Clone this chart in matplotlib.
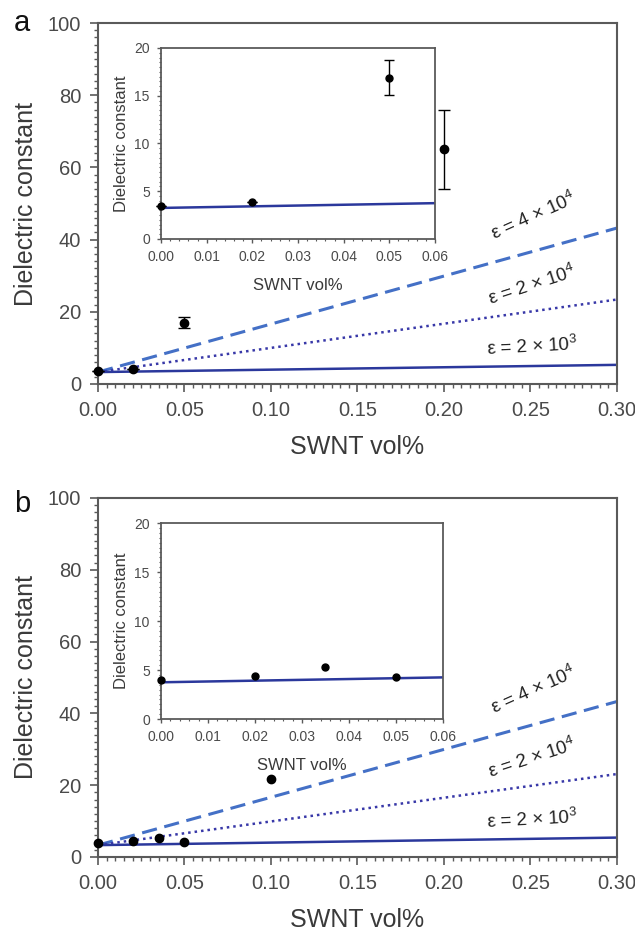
import matplotlib
matplotlib.use("Agg")
import matplotlib.pyplot as plt
from matplotlib.ticker import MultipleLocator, FormatStrFormatter

plt.rcParams['font.family'] = ['Liberation Sans', 'DejaVu Sans']

# ---- data -------------------------------------------------------------
# model curves (effective dielectric constant vs SWNT loading)
model_x = [0.0, 0.30]
model_a_4e4 = [3.3, 43.2]
model_a_2e4 = [3.3, 23.4]
model_a_2e3 = [3.3, 5.3]
model_b_4e4 = [3.3, 43.3]
model_b_2e4 = [3.3, 23.1]
model_b_2e3 = [3.3, 5.4]

# measured values, sample a
a_x = [0.0, 0.02, 0.05, 0.20]
a_y = [3.6, 4.1, 17.0, 65.0]
a_err = [0.0, 0.0, 1.6, 11.0]

# inset a
ia_x = [0.0, 0.02, 0.05]
ia_y = [3.45, 3.85, 16.9]
ia_err = [0.0, 0.0, 1.85]
ia_line_x = [0.0, 0.06]
ia_line_y = [3.25, 3.75]

# measured values, sample b
b_x = [0.0, 0.02, 0.035, 0.05, 0.10]
b_y = [4.0, 4.4, 5.2, 4.3, 21.6]

# inset b
ib_x = [0.0, 0.02, 0.035, 0.05]
ib_y = [4.0, 4.4, 5.3, 4.25]
ib_line_x = [0.0, 0.06]
ib_line_y = [3.75, 4.25]

labels = [r"$\varepsilon$ = 4 $\times$ 10$^4$",
          r"$\varepsilon$ = 2 $\times$ 10$^4$",
          r"$\varepsilon$ = 2 $\times$ 10$^3$"]

# ---- styling ----------------------------------------------------------
C_SOLID = '#2b389c'
C_DOT = '#3838a8'
C_DASH = '#4470c6'
TXT = '#3a3a3a'
TICK_TXT = '#4a4a4a'
SPINE = '#5a5a5a'

plt.rcParams['mathtext.fontset'] = 'custom'
plt.rcParams['mathtext.rm'] = 'Liberation Sans'
plt.rcParams['mathtext.it'] = 'Liberation Sans'

fig = plt.figure(figsize=(6.35, 9.32), dpi=100)


def style_main(ax):
    ax.set_xlim(0, 0.30)
    ax.set_ylim(0, 100)
    ax.xaxis.set_major_locator(MultipleLocator(0.05))
    ax.xaxis.set_minor_locator(MultipleLocator(0.005))
    ax.yaxis.set_major_locator(MultipleLocator(20))
    ax.yaxis.set_minor_locator(MultipleLocator(2))
    ax.xaxis.set_major_formatter(FormatStrFormatter('%.2f'))
    ax.tick_params(which='major', length=6, width=1.2, color=SPINE,
                   labelsize=14.5, labelcolor=TICK_TXT, pad=6)
    ax.tick_params(which='minor', length=3, width=1.0, color=SPINE)
    for s in ax.spines.values():
        s.set_color(SPINE)
        s.set_linewidth(1.5)
    ax.set_xlabel('SWNT vol%', fontsize=18, color=TXT, labelpad=11)
    ax.set_ylabel('Dielectric constant', fontsize=18, color=TXT, labelpad=7)


def style_inset(ax):
    ax.set_xlim(0, 0.06)
    ax.set_ylim(0, 20)
    ax.xaxis.set_major_locator(MultipleLocator(0.01))
    ax.xaxis.set_minor_locator(MultipleLocator(0.002))
    ax.yaxis.set_major_locator(MultipleLocator(5))
    ax.yaxis.set_minor_locator(MultipleLocator(0.5))
    ax.xaxis.set_major_formatter(FormatStrFormatter('%.2f'))
    ax.tick_params(which='major', length=3, width=1.0, color=SPINE,
                   labelsize=10, labelcolor=TICK_TXT, pad=5)
    ax.tick_params(which='minor', length=1.5, width=0.8, color=SPINE)
    for s in ax.spines.values():
        s.set_color(SPINE)
        s.set_linewidth(1.3)
    ax.set_xlabel('SWNT vol%', fontsize=12, color=TXT, labelpad=10)
    ax.set_ylabel('Dielectric constant', fontsize=12, color=TXT, labelpad=4)


def draw_models(ax, y4e4, y2e4, y2e3):
    ax.plot(model_x, y4e4, color=C_DASH, lw=2.2, dashes=(5, 2.5), zorder=2)
    ax.plot(model_x, y2e4, color=C_DOT, lw=1.8, dashes=(1.0, 1.6), zorder=2)
    ax.plot(model_x, y2e3, color=C_SOLID, lw=1.8, zorder=2)
    ax.text(0.252, 46.5, labels[0], rotation=24, fontsize=13.5, color='#222222',
            ha='center', va='center')
    ax.text(0.251, 27.5, labels[1], rotation=18, fontsize=13.5, color='#222222',
            ha='center', va='center')
    ax.text(0.251, 10.5, labels[2], rotation=3, fontsize=13.5, color='#222222',
            ha='center', va='center')


# ---- panel a ------------------------------------------------------------
ax_a = fig.add_axes([0.1543, 0.588, 0.8173, 0.3873])
style_main(ax_a)
draw_models(ax_a, model_a_4e4, model_a_2e4, model_a_2e3)
ax_a.errorbar(a_x, a_y, yerr=a_err, fmt='o', color='black', ms=6,
              capsize=4, elinewidth=1.0, capthick=1.0, zorder=4, clip_on=False)
fig.text(0.022, 0.975, 'a', fontsize=21, color='#111111', va='center')

in_a = fig.add_axes([0.2535, 0.7436, 0.4315, 0.2049])
style_inset(in_a)
in_a.plot(ia_line_x, ia_line_y, color=C_SOLID, lw=1.8, zorder=2)
in_a.errorbar(ia_x, ia_y, yerr=ia_err, fmt='o', color='black', ms=5,
              capsize=3.5, elinewidth=1.0, capthick=1.0, zorder=4, clip_on=False)

# ---- panel b ------------------------------------------------------------
ax_b = fig.add_axes([0.1543, 0.0805, 0.8173, 0.3852])
style_main(ax_b)
draw_models(ax_b, model_b_4e4, model_b_2e4, model_b_2e3)
ax_b.plot(b_x, b_y, 'o', color='black', ms=6, zorder=4, clip_on=False)
fig.text(0.022, 0.459, 'b', fontsize=21, color='#111111', va='center')

in_b = fig.add_axes([0.2535, 0.2285, 0.444, 0.2103])
style_inset(in_b)
in_b.plot(ib_line_x, ib_line_y, color=C_SOLID, lw=1.8, zorder=2)
in_b.plot(ib_x, ib_y, 'o', color='black', ms=5, zorder=4, clip_on=False)

fig.savefig('out.png', dpi=100)
